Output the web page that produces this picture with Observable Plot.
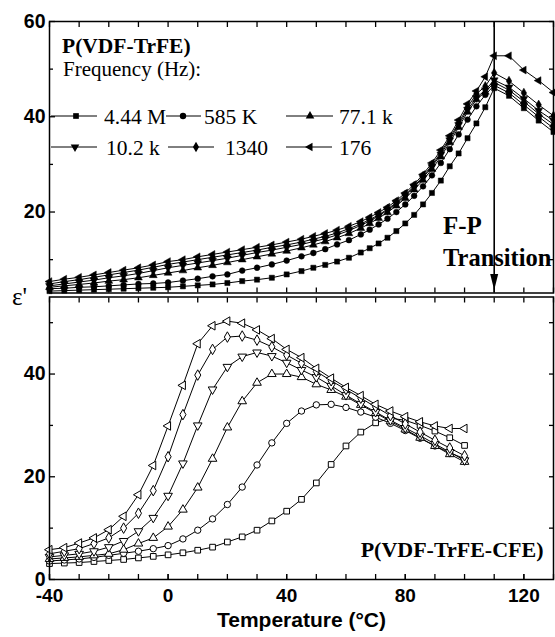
<!DOCTYPE html>
<html><head><meta charset="utf-8">
<script src="https://cdn.jsdelivr.net/npm/d3@7"></script>
<script src="https://cdn.jsdelivr.net/npm/@observablehq/plot@0.6"></script>
<style>
body{margin:0;background:#fff;}
#chart{position:relative;width:555px;height:637px;background:#fff;}
#top{position:absolute;left:0;top:0;}
#bottom{position:absolute;left:0;top:294px;}
#eps{position:absolute;left:12px;top:283px;font-family:"Liberation Serif",serif;font-size:25px;color:#000;}
</style></head><body>
<div id="chart"><div id="top"></div><div id="bottom"></div><div id="eps">ε'</div></div>
<script>
// ---------- data ----------
const frequencyLabels = ["4.44 M", "585 K", "77.1 k", "10.2 k", "1340", "176"];

// P(VDF-TrFE) (top panel)
const topTemps = [-40,-35,-30,-25,-20,-15,-10,-5,0,5,10,15,20,25,30,35,40,45,49,53,57,61,65,68,71,74,77,80,83,86,89,92,95,98,101,104,107,110,115,120,125,130];
const top444M = [3.4,3.5,3.6,3.7,3.8,3.9,4.0,4.1,4.2,4.4,4.6,4.8,5.1,5.5,5.8,6.2,6.9,7.6,8.3,8.9,9.6,10.4,11.5,12.4,13.4,14.6,16.0,17.6,19.4,21.6,24.0,26.6,29.6,32.3,35.5,38.6,42.0,46.0,44.4,41.8,39.2,36.8];
const top585K = [3.9,4.0,4.2,4.3,4.5,4.7,4.9,5.0,5.2,5.6,6.0,6.5,6.9,7.7,8.3,9.0,9.8,10.7,11.4,12.2,13.2,14.1,15.3,16.3,17.4,18.6,20.0,21.6,23.4,25.4,27.7,30.3,33.2,36.3,39.4,42.2,44.6,46.6,45.0,42.5,40.0,37.6];
const top771k = [4.2,4.5,4.8,5.1,5.5,5.8,6.2,6.7,7.2,7.7,8.3,8.8,9.4,10.0,10.6,11.2,11.8,12.5,13.1,13.8,14.6,15.5,16.6,17.6,18.7,19.9,21.3,22.9,24.7,26.7,29.0,31.6,34.6,37.8,41.0,43.6,45.2,47.2,45.6,43.2,40.6,38.4];
const top102k = [4.5,4.9,5.3,5.7,6.2,6.6,7.1,7.7,8.3,8.8,9.3,9.8,10.3,10.9,11.5,12.0,12.6,13.2,13.8,14.4,15.2,16.1,17.2,18.1,19.2,20.4,21.8,23.4,25.2,27.2,29.5,32.1,35.1,38.3,41.5,44.0,45.6,47.7,46.2,43.8,41.3,39.2];
const top1340 = [4.9,5.4,5.8,6.3,6.8,7.3,7.8,8.4,9.0,9.5,10.0,10.5,11.0,11.5,12.0,12.6,13.1,13.7,14.3,14.9,15.6,16.5,17.5,18.4,19.4,20.6,22.0,23.6,25.4,27.5,29.8,32.5,35.5,38.7,42.0,44.8,46.4,49.2,47.5,45.0,42.5,40.2];
const top176 = [5.4,5.9,6.3,6.8,7.3,7.8,8.3,8.9,9.6,10.0,10.6,11.1,11.6,12.1,12.6,13.1,13.7,14.3,14.9,15.5,16.2,17.0,18.0,18.9,19.9,21.0,22.4,24.0,25.8,27.9,30.3,33.0,36.0,39.3,42.7,45.4,48.4,52.8,52.8,49.8,47.6,45.1];

// P(VDF-TrFE-CFE) (bottom panel)
const bottomTemps = [-40,-35,-30,-25,-20,-15,-10,-5,0,5,10,15,20,25,30,35,40,45,50,55,60,65,70,75,80,85,90,95,100];
const bot444M = [3.1,3.2,3.3,3.5,3.7,3.9,4.2,4.5,4.8,5.2,5.7,6.3,7.3,8.3,9.6,11.4,13.3,15.6,18.8,22.4,26.0,28.7,30.5,31.4,31.0,30.0,28.9,27.6,26.1];
const bot585K = [3.6,3.8,4.0,4.3,4.7,5.1,5.5,6.0,6.6,7.9,9.6,11.8,14.6,18.0,22.3,26.6,30.4,32.8,34.0,34.1,33.5,32.6,31.6,30.4,29.0,27.5,26.0,24.7,23.5];
const bot771k = [4.0,4.2,4.4,4.7,5.0,5.8,7.0,8.1,10.3,13.6,17.9,23.5,29.6,34.7,38.3,40.0,40.0,39.4,38.0,36.9,35.6,34.0,32.4,30.8,29.2,27.6,26.0,24.4,22.9];
const bot102k = [4.4,4.7,5.0,5.5,6.3,7.5,9.4,12.0,16.3,22.6,30.0,37.0,41.4,43.4,44.2,43.5,42.2,40.8,39.4,37.7,35.9,34.2,32.6,31.0,29.5,28.0,26.4,24.8,23.2];
const bot1340 = [5.0,5.5,6.0,7.0,8.1,10.0,12.9,17.3,23.9,32.1,39.8,44.8,47.2,47.4,46.6,45.3,43.7,42.1,40.5,38.7,37.0,35.3,33.6,31.9,30.3,28.7,27.1,25.6,24.1];
const bot176 = [5.8,6.2,7.1,8.1,9.7,12.3,16.5,22.2,29.9,37.8,45.9,49.4,50.3,49.9,48.6,46.9,44.8,43.2,41.1,39.2,37.4,35.8,34.1,32.8,31.7,30.7,29.9,29.4,29.4];

const xDomain = [-40, 130];
const topYDomain = [3, 60];
const botYDomain = [0, 55];
const xTickLabels = [-40, 0, 40, 80, 120];
const xTicksAll = [-40,-30,-20,-10,0,10,20,30,40,50,60,70,80,90,100,110,120,130];
const topYTickLabels = [20, 40, 60];
const topYMinor = [10, 30, 50];
const topYAll = [10, 20, 30, 40, 50, 60];
const botYTickLabels = [0, 20, 40];
const botYMinor = [10, 30, 50];
const botYAll = [10, 20, 30, 40, 50];
const transitionTemp = 110;

// ---------- symbols ----------
const sqrt3 = Math.sqrt(3);
const triDown = {draw(ctx, size) { const y = -Math.sqrt(size / (sqrt3 * 3)); ctx.moveTo(0, -y * 2); ctx.lineTo(-sqrt3 * y, y); ctx.lineTo(sqrt3 * y, y); ctx.closePath(); }};
const triLeft = {draw(ctx, size) { const y = -Math.sqrt(size / (sqrt3 * 3)); ctx.moveTo(y * 2, 0); ctx.lineTo(-y, sqrt3 * y); ctx.lineTo(-y, -sqrt3 * y); ctx.closePath(); }};
const arrowHead = {draw(ctx) { ctx.moveTo(0, 0); ctx.lineTo(-4, -16); ctx.lineTo(4, -16); ctx.closePath(); }};
const seriesSymbols = [d3.symbolSquare, d3.symbolCircle, d3.symbolTriangle, triDown, d3.symbolDiamond, triLeft];

const topSeries = [top444M, top585K, top771k, top102k, top1340, top176];
const botSeries = [bot444M, bot585K, bot771k, bot102k, bot1340, bot176];
const topData = frequencyLabels.map((f, i) => topTemps.map((t, j) => ({freq: f, t, v: topSeries[i][j]})));
const botData = frequencyLabels.map((f, i) => bottomTemps.map((t, j) => ({freq: f, t, v: botSeries[i][j]})));

const sans = "Liberation Sans, Arial, sans-serif";
const serif = "Liberation Serif, Times New Roman, serif";
const noText = () => "";

function frameAxes(yLabels, yMinor, yAll, bottomLabels) {
  return [
    Plot.axisY(yLabels, {anchor: "left", tickSize: -6, tickPadding: 10, label: null, tickFormat: d => String(d), fontSize: 19.5, fontWeight: "bold", fontFamily: sans, strokeWidth: 1.3}),
    Plot.axisY(yMinor, {anchor: "left", tickSize: -4, label: null, tickFormat: noText, strokeWidth: 1.3}),
    Plot.axisY(yAll, {anchor: "right", tickSize: -5, label: null, tickFormat: noText, strokeWidth: 1.3}),
    Plot.axisX(xTicksAll, {anchor: "top", tickSize: -5, label: null, tickFormat: noText, strokeWidth: 1.3}),
    bottomLabels
      ? Plot.axisX(xTickLabels, {anchor: "bottom", tickSize: -5, tickPadding: 14, label: null, tickFormat: d => String(d), fontSize: 19, fontWeight: "bold", fontFamily: sans, strokeWidth: 1.3})
      : Plot.axisX(xTicksAll, {anchor: "bottom", tickSize: -5, label: null, tickFormat: noText, strokeWidth: 1.3}),
    bottomLabels ? Plot.axisX(xTicksAll, {anchor: "bottom", tickSize: -5, label: null, tickFormat: noText, strokeWidth: 1.3}) : null,
    Plot.frame({stroke: "black", strokeWidth: 1.5})
  ];
}

// ---------- top panel ----------
const topPlot = Plot.plot({
  width: 555, height: 295,
  marginLeft: 49, marginRight: 2, marginTop: 21, marginBottom: 2.5,
  style: {background: "none", color: "black", fontFamily: sans},
  x: {domain: xDomain},
  y: {domain: topYDomain},
  marks: [
    ...topData.map(s => Plot.line(s, {x: "t", y: "v", stroke: "black", strokeWidth: 1})),
    ...topData.map((s, i) => Plot.dot(s, {x: "t", y: "v", symbol: seriesSymbols[i], r: 2.9, fill: "black", stroke: "black", strokeWidth: 0.5})),
    Plot.ruleX([transitionTemp], {x: d => d, y1: topYDomain[1], y2: topYDomain[0], stroke: "black", strokeWidth: 1.6}),
    Plot.dot([transitionTemp], {x: d => d, y: () => topYDomain[0], symbol: arrowHead, r: 4, fill: "black", stroke: "none", dy: -3}),
    ...frameAxes(topYTickLabels, topYMinor, topYAll, false).filter(Boolean)
  ]
});
document.getElementById("top").appendChild(topPlot);

// annotations and legend (top panel)
const st = d3.select(topPlot);
const addText = (x, y, s, size, bold, fam) => st.append("text").attr("x", x).attr("y", y)
  .attr("text-anchor", "start").attr("font-family", fam).attr("font-weight", bold ? "bold" : "normal")
  .attr("font-size", size).attr("fill", "black").text(s);
addText(62, 53, "P(VDF-TrFE)", 21.5, true, serif);
addText(63, 76, "Frequency (Hz):", 21, false, serif);
const legendLayout = [
  {row: 116, x1: 51, x2: 97, mx: 76, tx: 104},
  {row: 116, x1: 166, x2: 201, mx: 183, tx: 204},
  {row: 116, x1: 286, x2: 333, mx: 310, tx: 339},
  {row: 147, x1: 51, x2: 97, mx: 75, tx: 106},
  {row: 147, x1: 168, x2: 214, mx: 196, tx: 225},
  {row: 147, x1: 286, x2: 332, mx: 310, tx: 339}
];
frequencyLabels.forEach((f, i) => {
  const L = legendLayout[i];
  st.append("line").attr("x1", L.x1).attr("x2", L.x2).attr("y1", L.row).attr("y2", L.row).attr("stroke", "black").attr("stroke-width", 1);
  st.append("path").attr("transform", `translate(${L.mx},${L.row})`).attr("d", d3.symbol().type(seriesSymbols[i]).size(Math.PI * 3.2 * 3.2)()).attr("fill", "black");
  addText(L.tx, L.row + 7.5, f, 21.5, false, serif);
});
addText(443, 234, "F-P", 25, true, serif);
addText(443, 266, "Transition", 24.5, true, serif);

// ---------- bottom panel ----------
const botPlot = Plot.plot({
  width: 555, height: 343,
  marginLeft: 49, marginRight: 2, marginTop: 2.5, marginBottom: 58,
  style: {background: "none", color: "black", fontFamily: sans},
  x: {domain: xDomain},
  y: {domain: botYDomain},
  marks: [
    ...botData.map(s => Plot.line(s, {x: "t", y: "v", stroke: "black", strokeWidth: 1})),
    ...botData.map((s, i) => Plot.dot(s, {x: "t", y: "v", symbol: seriesSymbols[i], r: 3.2, fill: "white", stroke: "black", strokeWidth: 1})),
    ...frameAxes(botYTickLabels, botYMinor, botYAll, true).filter(Boolean),
    Plot.text(["P(VDF-TrFE-CFE)"], {frameAnchor: "bottom-right", dx: -10, dy: -23, textAnchor: "end", fontFamily: serif, fontWeight: "bold", fontSize: 22, fill: "black"}),
    Plot.text(["Temperature (°C)"], {frameAnchor: "bottom", dy: 47, fontFamily: sans, fontWeight: "bold", fontSize: 21, fill: "black"})
  ]
});
document.getElementById("bottom").appendChild(botPlot);
</script>
</body></html>
